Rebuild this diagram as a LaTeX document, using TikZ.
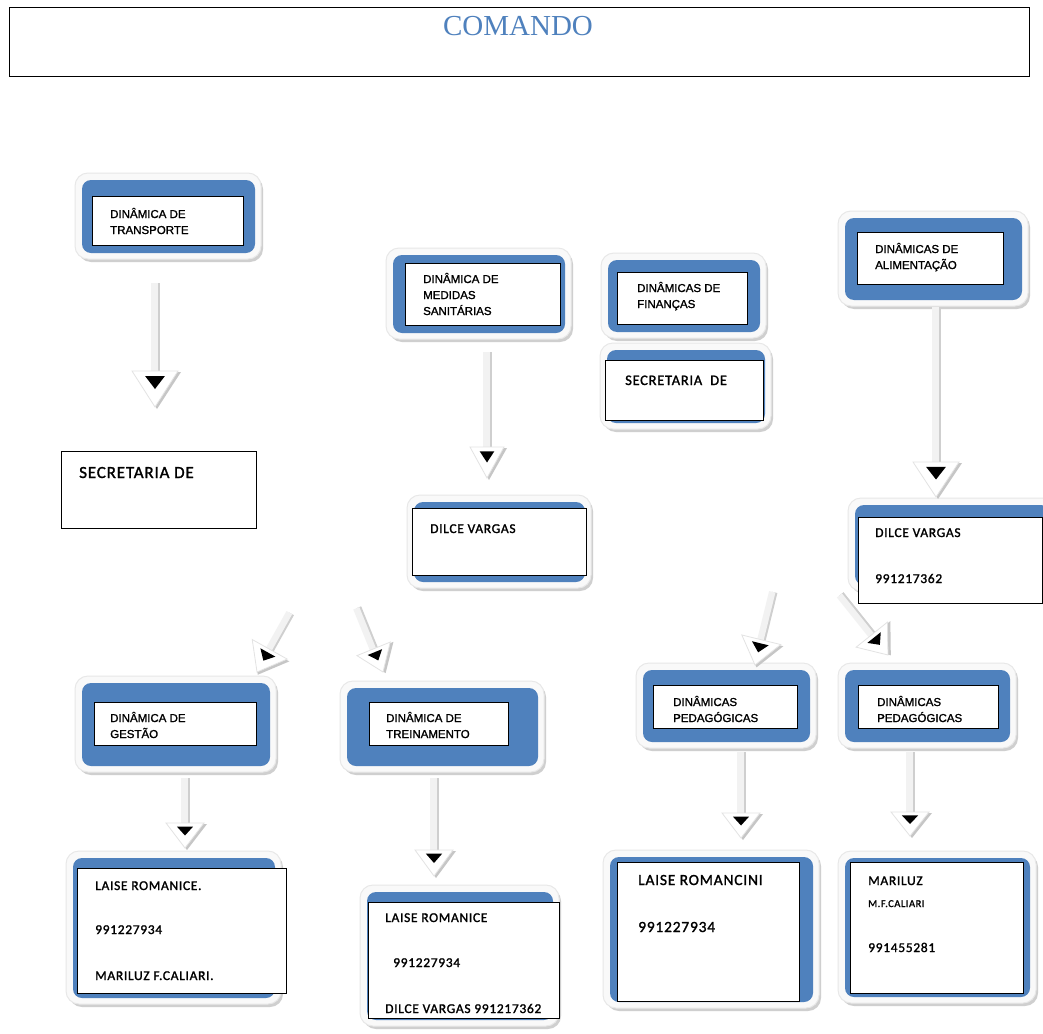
\documentclass[tikz,border=0pt]{standalone}
\usepackage{fontspec}
\newfontfamily\arlfnt[FakeBold=1.4]{Liberation Sans}
\newfontfamily\calfnt[LetterSpace=5,FakeBold=1.4]{Carlito}
\newfontfamily\tmsfnt{Liberation Serif}
\definecolor{blueF}{HTML}{4F81BD}
\tikzset{
  lbl/.style={font=\arlfnt\fontsize{11.5}{13}\selectfont, inner sep=0pt, anchor=base west},
  nm/.style={font=\calfnt\fontsize{13.5}{15}\selectfont, inner sep=0pt, anchor=base west},
  inbox/.style={draw=black, line width=1pt, fill=white, inner sep=0pt, outer sep=0pt, anchor=north west},
}
% blue rounded frame with light glow and shadow: x1,y1,x2,y2 (pixels, y down)
\newcommand\bframe[4]{%
  \fill[gray!38, rounded corners=13pt] (#1-4,#2-4) rectangle (#3+8,#4+9);
  \fill[gray!5, draw=gray!18, line width=1pt, rounded corners=13pt] (#1-7,#2-7) rectangle (#3+6,#4+6);
  \fill[blueF, rounded corners=9pt] (#1,#2) rectangle (#3,#4);
}
% hollow block arrow: start, end, head half width, head length
\newcommand\harrow[4]{%
  \pgfpointdiff{\pgfpointanchor{#1}{center}}{\pgfpointanchor{#2}{center}}%
  \pgfgetlastxy{\hax}{\hay}%
  \pgfmathsetmacro\haang{atan2(\hay,\hax)}%
  \pgfmathsetmacro\halen{veclen(\hax,\hay)}%
  \begin{scope}[shift={(#1)}, rotate=\haang, x=1pt, y=1pt]
    \fill[gray!38] (0,-1) rectangle (\halen-#4+3,4.5);
    \fill[gray!10] (0,-4) rectangle (\halen-#4+3,2.5);
    \fill[gray!45] (\halen-#4+1,-#3+1) -- (\halen-#4+1,#3+3) -- (\halen+2,2) -- cycle;
    \filldraw[fill=white, draw=gray!22, line width=0.8pt] (\halen-#4,-#3) -- (\halen-#4,#3) -- (\halen,0) -- cycle;
    \fill[black] (\halen-#4+0.14*#4,-0.43*#3) -- (\halen-#4+0.14*#4,0.43*#3) -- (\halen-0.5*#4,0) -- cycle;
  \end{scope}}
\begin{document}
\begin{tikzpicture}[x=1pt,y=-1pt]
\useasboundingbox (0,0) rectangle (1043,1033);
\fill[white] (0,0) rectangle (1043,1033);

% COMANDO
\node[draw=black, line width=1pt, inner sep=0pt, outer sep=0pt, minimum width=1020pt, minimum height=68pt, anchor=north west] (cmd) at (9,8) {};
\node[font=\tmsfnt\fontsize{29}{31}\selectfont, text=blueF, inner sep=0pt, anchor=base] (cmdt) at (518,36) {COMANDO};

% A transporte
\bframe{82}{180}{255}{253}
\node[inbox, minimum width=151pt, minimum height=49pt] (A) at (92,196) {};
\node[lbl] (A1) at (110,218) {DINÂMICA DE};
\node[lbl] (A2) at (110,234) {TRANSPORTE};

% secretaria left
\node[inbox, minimum width=195pt, minimum height=77pt] (S1) at (61,451) {};
\node[nm, font=\calfnt\fontsize{17}{18}\selectfont] (S1t) at (79,478) {SECRETARIA DE};

% B medidas
\bframe{393}{255}{565}{333}
\node[inbox, minimum width=155pt, minimum height=62pt] (B) at (405,263) {};
\node[lbl] (B1) at (423,283) {DINÂMICA DE};
\node[lbl] (B2) at (423,299) {MEDIDAS};
\node[lbl] (B3) at (423,315) {SANITÁRIAS};

% dilce middle
\bframe{414}{502}{585}{582}
\node[inbox, minimum width=174pt, minimum height=67pt] (DV1) at (412,508) {};
\node[nm] (DV1t) at (430,533) {DILCE VARGAS};

% C financas
\bframe{608}{260}{760}{332}
\node[inbox, minimum width=130pt, minimum height=52pt] (C) at (617,272) {};
\node[lbl] (C1) at (637,292) {DINÂMICAS DE};
\node[lbl] (C2) at (637,308) {FINANÇAS};

% secretaria right
\bframe{607}{350}{765}{423}
\node[inbox, minimum width=158pt, minimum height=60pt] (S2) at (605,360) {};
\node[nm, font=\calfnt\fontsize{14.5}{16}\selectfont] (S2t) at (625,385) {SECRETARIA\ \ DE};

% D alimentacao
\bframe{845}{218}{1022}{300}
\node[inbox, minimum width=146pt, minimum height=52pt] (D) at (857,232) {};
\node[lbl] (D1) at (875,253) {DINÂMICAS DE};
\node[lbl] (D2) at (875,269) {ALIMENTAÇÃO};

% dilce right
\bframe{855}{505}{1050}{585}
\node[inbox, minimum width=184pt, minimum height=86pt] (DV2) at (858,517) {};
\node[nm] (DV2a) at (875,537) {DILCE VARGAS};
\node[nm] (DV2b) at (875,583) {991217362};

% E gestao
\bframe{82}{683}{270}{766}
\node[inbox, minimum width=162pt, minimum height=43pt] (E) at (94,702) {};
\node[lbl] (E1) at (110,722) {DINÂMICA DE};
\node[lbl] (E2) at (110,738) {GESTÃO};

% F treinamento
\bframe{347}{688}{538}{766}
\node[inbox, minimum width=139pt, minimum height=43pt] (F) at (369,702) {};
\node[lbl] (F1) at (386,722) {DINÂMICA DE};
\node[lbl] (F2) at (386,738) {TREINAMENTO};

% G pedagogicas
\bframe{643}{670}{810}{742}
\node[inbox, minimum width=144pt, minimum height=43pt] (G) at (653,685) {};
\node[lbl] (G1) at (673,706) {DINÂMICAS};
\node[lbl] (G2) at (673,722) {PEDAGÓGICAS};

% H pedagogicas
\bframe{845}{670}{1010}{742}
\node[inbox, minimum width=140pt, minimum height=43pt] (H) at (858,685) {};
\node[lbl] (H1) at (877,706) {DINÂMICAS};
\node[lbl] (H2) at (877,722) {PEDAGÓGICAS};

% I
\bframe{73}{858}{275}{998}
\node[inbox, minimum width=209pt, minimum height=125pt] (I) at (77,868) {};
\node[nm] (I1) at (95,890) {LAISE ROMANICE.};
\node[nm] (I2) at (95,934) {991227934};
\node[nm] (I3) at (95,980) {MARILUZ F.CALIARI.};

% J
\bframe{367}{892}{553}{1020}
\node[inbox, minimum width=191pt, minimum height=116pt] (J) at (368,902) {};
\node[nm] (J1) at (385,922) {LAISE ROMANICE};
\node[nm] (J2) at (393,967) {991227934};
\node[nm] (J3) at (385,1013) {DILCE VARGAS 991217362};

% K
\bframe{610}{857}{813}{1002}
\node[inbox, minimum width=182pt, minimum height=139pt] (K) at (617,862) {};
\node[nm, font=\calfnt\fontsize{15.5}{17}\selectfont] (K1) at (638,885) {LAISE ROMANCINI};
\node[nm, font=\calfnt\fontsize{15.5}{17}\selectfont] (K2) at (638,932) {991227934};

% L
\bframe{845}{858}{1030}{997}
\node[inbox, minimum width=173pt, minimum height=131pt] (L) at (850,862) {};
\node[nm] (L1) at (868,885) {MARILUZ};
\node[nm, font=\calfnt\fontsize{10.5}{12}\selectfont] (L2) at (868,907) {M.F.CALIARI};
\node[nm] (L3) at (868,952) {991455281};

% arrow end points
\coordinate (p1s) at (155,283); \coordinate (p1e) at (155,407);
\coordinate (p2s) at (487,352); \coordinate (p2e) at (487,478);
\coordinate (p3s) at (936,307); \coordinate (p3e) at (936,497);
\coordinate (q1s) at (290,613); \coordinate (q1e) at (257,672);
\coordinate (q2s) at (357,608); \coordinate (q2e) at (383,672);
\coordinate (q3s) at (773,592); \coordinate (q3e) at (755,665);
\coordinate (q4s) at (840,595); \coordinate (q4e) at (888,655);
\coordinate (r1s) at (185,778); \coordinate (r1e) at (185,848);
\coordinate (r2s) at (434,778); \coordinate (r2e) at (434,876);
\coordinate (r3s) at (741,752); \coordinate (r3e) at (741,838);
\coordinate (r4s) at (910,752); \coordinate (r4e) at (910,836);

\harrow{p1s}{p1e}{23}{36}
\harrow{p2s}{p2e}{17}{31}
\harrow{p3s}{p3e}{23}{35}
\harrow{q1s}{q1e}{20}{26}
\harrow{q2s}{q2e}{18}{25}
\harrow{q3s}{q3e}{20}{26}
\harrow{q4s}{q4e}{20}{26}
\harrow{r1s}{r1e}{19}{25}
\harrow{r2s}{r2e}{19}{26}
\harrow{r3s}{r3e}{19}{25}
\harrow{r4s}{r4e}{19}{24}
\end{tikzpicture}
\end{document}
